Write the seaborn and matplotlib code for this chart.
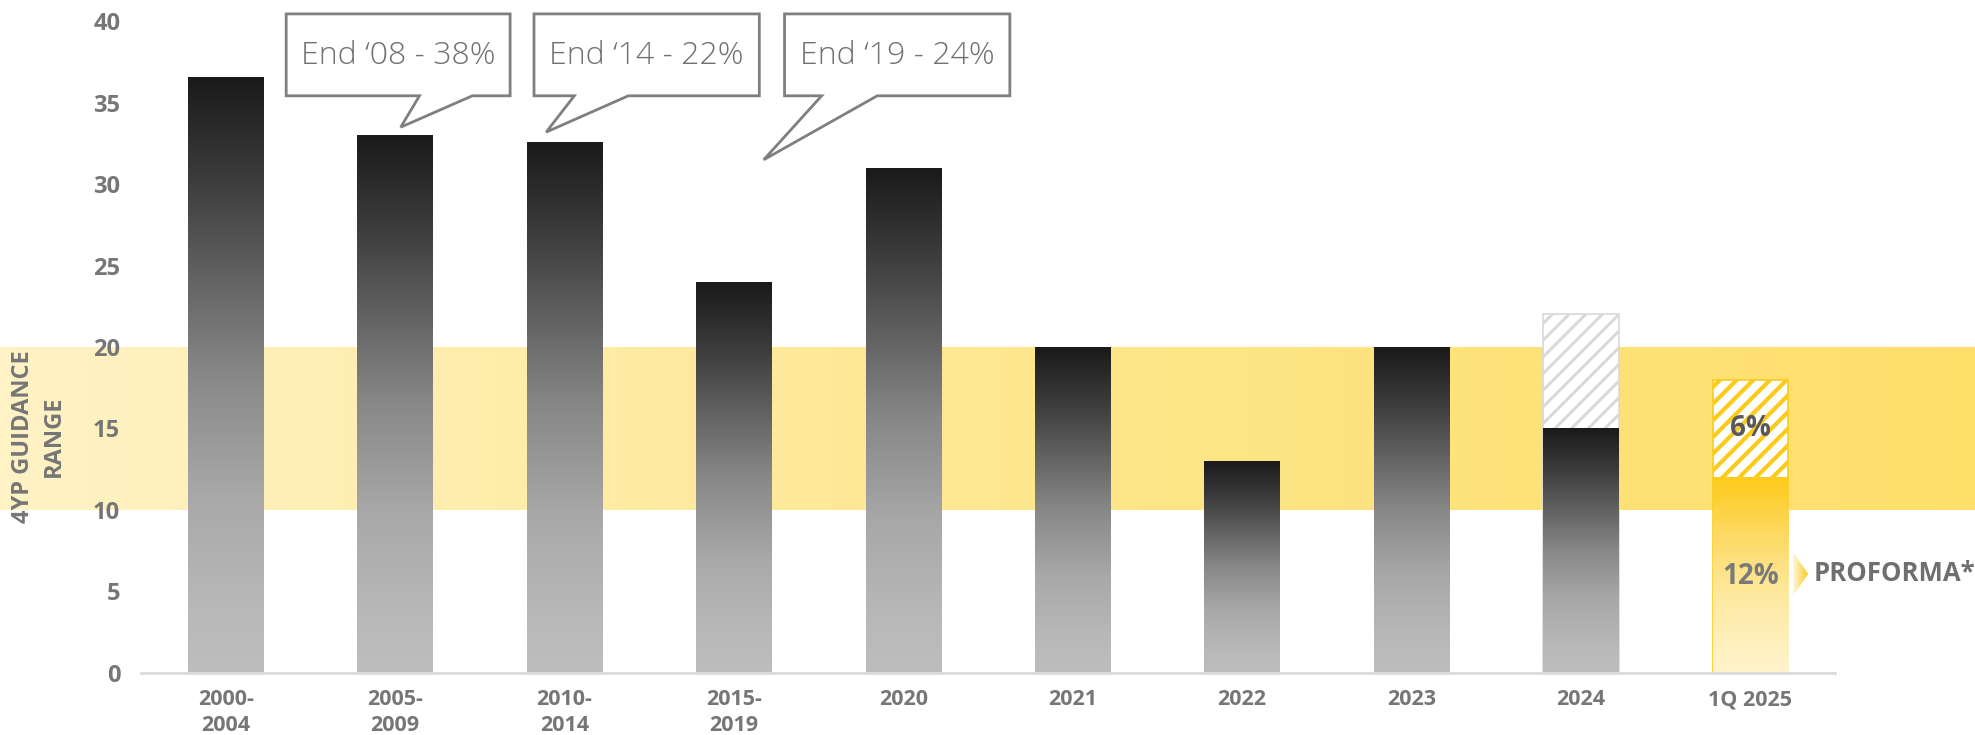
import numpy as np
import matplotlib
matplotlib.use("Agg")
import matplotlib.pyplot as plt
from matplotlib.patches import Polygon
from matplotlib.colors import LinearSegmentedColormap
from matplotlib import transforms
import seaborn as sns

# ---- data ----
categories = ["2000-\n2004", "2005-\n2009", "2010-\n2014", "2015-\n2019", "2020",
              "2021", "2022", "2023", "2024", "1Q 2025"]
reported = [36.6, 33.0, 32.6, 24.0, 31.0, 20.0, 13.0, 20.0, 15.0, 12.0]
extra = [0, 0, 0, 0, 0, 0, 0, 0, 7.0, 6.0]
yticks = [0, 5, 10, 15, 20, 25, 30, 35, 40]
guidance_range = (10, 20)
callout_texts = ["End \u201808 - 38%", "End \u201814 - 22%", "End \u201819 - 24%"]
totals = [r + e for r, e in zip(reported, extra)]

GREY_TXT = "#767676"

sns.set_style("white")
plt.rcParams["font.family"] = ["Open Sans", "DejaVu Sans"]

fig = plt.figure(figsize=(19.75, 7.35), dpi=100)
ax_rect = [141 / 1975, 62.4 / 735, 1694 / 1975, 651.2 / 735]

# guidance band spanning the full figure width
bg = fig.add_axes([0, ax_rect[1], 1, ax_rect[3]], zorder=0)
band_cmap = LinearSegmentedColormap.from_list(
    "band", [(0, "#FFF3C6"), (0.55, "#FEE68A"), (1, "#FDDF6A")])
bg.imshow(np.linspace(0, 1, 256)[None, :], cmap=band_cmap,
          extent=(0, 1, guidance_range[0], guidance_range[1]),
          aspect="auto", origin="lower", interpolation="bilinear")
bg.set_xlim(0, 1)
bg.set_ylim(0, 40)
bg.axis("off")

ax = fig.add_axes(ax_rect, zorder=1)
ax.patch.set_alpha(0)

BAR_W = 0.445

# totals (hatched upper segments)
sns.barplot(x=categories, y=totals, ax=ax, width=BAR_W, color="white",
            errorbar=None, saturation=1)
n = len(categories)
hatch_patches = ax.patches[:n]
for i, p in enumerate(hatch_patches):
    if extra[i] == 0:
        p.set_visible(False)
        continue
    p.set_facecolor("white")
    p.set_hatch("//")
    if i == n - 1:
        p.set_edgecolor("#FCCB1A")
        lw = 3.0
    else:
        p.set_edgecolor("#D9D9D9")
        lw = 2.2
    p.set_linewidth(1.2)
    if hasattr(p, "set_hatch_linewidth"):
        p.set_hatch_linewidth(lw)

# reported values (gradient-filled bars)
sns.barplot(x=categories, y=reported, ax=ax, width=BAR_W, color="grey",
            errorbar=None, saturation=1)
solid_patches = ax.patches[n:2 * n]

grey_cmap = LinearSegmentedColormap.from_list(
    "greybar", [(0, "#BDBDBD"), (0.1, "#B9B9B9"), (0.3, "#A8A8A8"),
                (0.5, "#888888"), (0.83, "#3C3C3C"), (1, "#1A1A1A")])
gold_cmap = LinearSegmentedColormap.from_list(
    "goldbar", [(0, "#FFF4CE"), (0.4, "#FEE9A0"), (0.7, "#FDDA64"), (1, "#FCCB1A")])
grad = np.linspace(0, 1, 256)[:, None]
for i, p in enumerate(solid_patches):
    x, w, h = p.get_x(), p.get_width(), p.get_height()
    p.set_facecolor("none")
    p.set_edgecolor("none")
    cmap = gold_cmap if i == n - 1 else grey_cmap
    ax.imshow(grad, cmap=cmap, extent=(x, x + w, 0, h), origin="lower",
              aspect="auto", zorder=2, interpolation="bilinear")

ax.set_xlim(-0.5, n - 0.5)
ax.set_ylim(0, 40)

# value labels on the last bar
last = n - 1
ax.text(last, reported[last] + extra[last] / 2, f"{extra[last]:.0f}%",
        ha="center", va="center", fontsize=20, fontweight="bold",
        color="#595959", zorder=4)
ax.text(last, reported[last] * 0.49, f"{reported[last]:.0f}%",
        ha="center", va="center", fontsize=20, fontweight="bold",
        color="#7A7A7A", zorder=4)

# chevron + PROFORMA tag
chev_y = reported[last] * 0.505
chev = Polygon([(9.253, chev_y + 1.33), (9.342, chev_y), (9.253, chev_y - 1.33)],
               closed=True, facecolor="none", edgecolor="none",
               transform=ax.transData)
ax.add_patch(chev)
chev_cmap = LinearSegmentedColormap.from_list("chev", ["#FFF6D8", "#FCCB1A"])
im = ax.imshow(np.linspace(0, 1, 64)[None, :], cmap=chev_cmap,
               extent=(9.253, 9.342, chev_y - 1.33, chev_y + 1.33),
               aspect="auto", zorder=3, interpolation="bilinear")
im.set_clip_path(chev)
ax.text(9.372, chev_y, "PROFORMA*", ha="left", va="center", fontsize=18.5,
        fontweight="bold", color="#6F6F6F", clip_on=False)
ax.set_xlim(-0.5, n - 0.5)
ax.set_ylim(0, 40)

# speech-bubble callouts: (left, right, base_left, base_right, tip_x, tip_y)
bubbles = [
    (0.357, 1.679, 1.144, 1.456, 1.033, 33.5),
    (1.820, 3.150, 2.058, 2.377, 1.892, 33.2),
    (3.299, 4.629, 3.518, 3.846, 3.176, 31.5),
]
y_bot, y_top = 35.43, 40.46
for (x0, x1, bl, br, tx, ty), label in zip(bubbles, callout_texts):
    pts = [(x0, y_top), (x1, y_top), (x1, y_bot), (br, y_bot), (tx, ty),
           (bl, y_bot), (x0, y_bot)]
    ax.add_patch(Polygon(pts, closed=True, facecolor="white", edgecolor="#7F7F7F",
                         linewidth=2, clip_on=False, zorder=5, joinstyle="miter"))
    ax.text((x0 + x1) / 2, (y_top + y_bot) / 2 - 0.05, label, ha="center",
            va="center", fontsize=23, fontweight="light", color="#707070",
            zorder=6, clip_on=False)

# axes styling
sns.despine(ax=ax, left=True)
ax.spines["bottom"].set_color("#DCDCDC")
ax.spines["bottom"].set_linewidth(2)
ax.set_yticks(yticks)
ax.set_ylabel("")
ax.set_xlabel("")
ax.tick_params(axis="y", length=0, pad=15, labelsize=17, labelcolor=GREY_TXT)
ax.tick_params(axis="x", length=0, pad=12, labelsize=15.5, labelcolor=GREY_TXT)
for lbl in ax.get_yticklabels() + ax.get_xticklabels():
    lbl.set_fontweight("bold")
for lbl in ax.get_xticklabels():
    lbl.set_linespacing(1.28)
ax.grid(False)

# band label on the far left
trans = transforms.blended_transform_factory(fig.transFigure, ax.transData)
ax.text(0.0195, 14.5, "4YP GUIDANCE\nRANGE", transform=trans, rotation=90,
        ha="center", va="center", multialignment="center", fontsize=17,
        fontweight="bold", color=GREY_TXT, linespacing=1.4, clip_on=False)

fig.savefig("out.png", dpi=100)
